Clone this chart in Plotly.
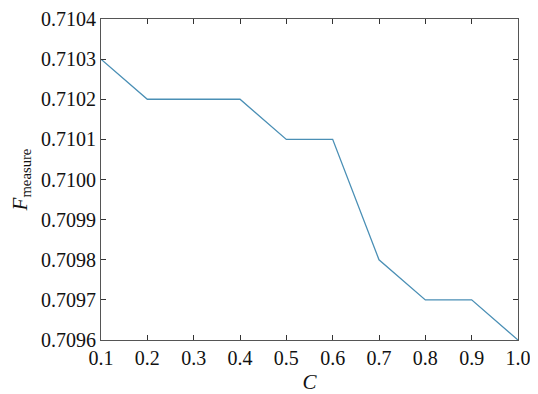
import plotly.graph_objects as go

c_values = [0.1, 0.2, 0.3, 0.4, 0.5, 0.6, 0.7, 0.8, 0.9, 1.0]
f_measure = [0.7103, 0.7102, 0.7102, 0.7102, 0.7101, 0.7101, 0.7098, 0.7097, 0.7097, 0.7096]
x_ticks = [0.1, 0.2, 0.3, 0.4, 0.5, 0.6, 0.7, 0.8, 0.9, 1.0]
y_ticks = [0.7096, 0.7097, 0.7098, 0.7099, 0.7100, 0.7101, 0.7102, 0.7103, 0.7104]

font_family = "Liberation Serif, serif"

fig = go.Figure()
fig.add_trace(go.Scatter(x=c_values, y=f_measure, mode="lines",
                         line=dict(color="#4a8fb5", width=1.3), showlegend=False))

axis_common = dict(showgrid=False, zeroline=False, showline=True, linecolor="#555555",
                   linewidth=1.2, mirror="ticks", ticks="inside", ticklen=5,
                   tickcolor="#333333", automargin=False, ticklabeloverflow="allow",
                   tickfont=dict(family=font_family, size=20, color="#111111"))

fig.update_xaxes(range=[0.1, 1.0], tickvals=x_ticks,
                 ticktext=[f"{v:.1f}" for v in x_ticks],
                 title=dict(text="<i>C</i>", font=dict(family=font_family, size=21, color="#111111"), standoff=6),
                 **axis_common)
fig.update_yaxes(range=[0.7096, 0.7104], tickvals=y_ticks,
                 ticktext=[f"{v:.4f}" for v in y_ticks],
                 title=dict(text="<i>F</i><sub>measure</sub>", font=dict(family=font_family, size=21, color="#111111"), standoff=8),
                 **axis_common)

fig.update_layout(width=530, height=386, margin=dict(l=93, r=20, t=11, b=54),
                  plot_bgcolor="white", paper_bgcolor="white")

fig.write_html("out.html")
